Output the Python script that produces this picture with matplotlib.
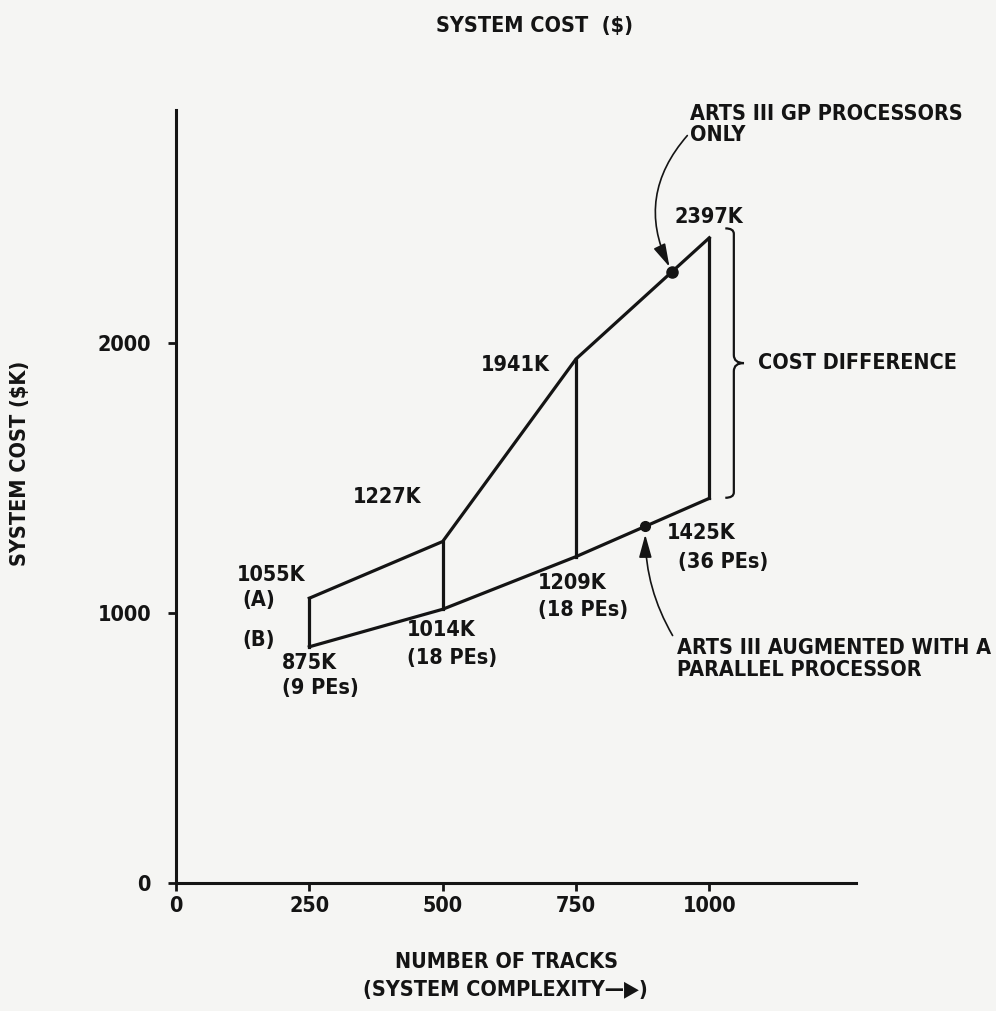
import numpy as np
import matplotlib
matplotlib.use("Agg")
import matplotlib.pyplot as plt
from matplotlib.path import Path
from matplotlib.patches import PathPatch

# tracks vs system cost ($K)
tracks = [250, 500, 750, 1000]
cost_a = [1055, 1265, 1941, 2390]      # ARTS III GP processors only (as drawn)
cost_b = [875, 1014, 1209, 1425]       # ARTS III + parallel processor
labels_a = ["1055K", "1227K", "1941K", "2397K"]
labels_b = ["875K", "1014K", "1209K", "1425K"]
pes_b = ["(9 PEs)", "(18 PEs)", "(18 PEs)", "(36 PEs)"]
x_ticks = [0, 250, 500, 750, 1000]
y_ticks = [0, 1000, 2000]
dot_a_x = 930
dot_b_x = 880

ink = "#141414"
bg = "#f5f5f3"
fs = 15.5
font = dict(family="DejaVu Sans", fontstretch="condensed", fontweight="bold", color=ink)

fig = plt.figure(figsize=(9.96, 10.11), dpi=100, facecolor=bg)
ax = fig.add_axes([0.1767, 0.1266, 0.6827, 0.765])
ax.set_facecolor(bg)
ax.set_xlim(0, 1275)
ax.set_ylim(0, 2865)

for s in ["top", "right"]:
    ax.spines[s].set_visible(False)
for s in ["left", "bottom"]:
    ax.spines[s].set_linewidth(2.2)
    ax.spines[s].set_color(ink)

ax.set_xticks(x_ticks)
ax.set_yticks(y_ticks)
ax.tick_params(axis="x", direction="out", length=6, width=2, pad=3, colors=ink)
ax.tick_params(axis="y", direction="out", length=6, width=2, pad=12, colors=ink)
for t in ax.get_xticklabels() + ax.get_yticklabels():
    t.set_fontsize(fs)
    t.set_fontweight("bold")
    t.set_fontstretch("condensed")

lw = 2.3
# outline of the cost band
ax.plot(tracks, cost_a, color=ink, lw=lw, solid_joinstyle="miter")
ax.plot(tracks, cost_b, color=ink, lw=lw, solid_joinstyle="miter")
for x, a, b in zip(tracks, cost_a, cost_b):
    ax.plot([x, x], [b, a], color=ink, lw=lw)

# dots on each curve
ya = np.interp(dot_a_x, tracks, cost_a)
yb = np.interp(dot_b_x, tracks, cost_b)
ax.plot([dot_a_x], [ya], "o", color=ink, ms=8)
ax.plot([dot_b_x], [yb], "o", color=ink, ms=7)

# value labels
ax.text(114, 1141, labels_a[0], ha="left", va="center", fontsize=fs, **font)
ax.text(124, 1048, "(A)", ha="left", va="center", fontsize=fs, **font)
ax.text(124, 900, "(B)", ha="left", va="center", fontsize=fs, **font)
ax.text(396, 1430, labels_a[1], ha="center", va="center", fontsize=fs, **font)
ax.text(637, 1919, labels_a[2], ha="center", va="center", fontsize=fs, **font)
ax.text(999, 2467, labels_a[3], ha="center", va="center", fontsize=fs, **font)

b_pos = [(199, 815, 722), (433, 937, 833), (679, 1111, 1011), (921, 1296, 1189)]
for (x, y1, y2), lab, pe in zip(b_pos, labels_b, pes_b):
    ax.text(x, y1, lab, ha="left", va="center", fontsize=fs, **font)
    ax.text(x + (20 if pe == "(36 PEs)" else 0), y2, pe, ha="left", va="center", fontsize=fs, **font)

# brace for cost difference
bx, tip = 1046, 1065
top, bot = cost_a[-1] + 35, cost_b[-1] + 2
mid = (top + bot) / 2
verts = [(bx - 16, top), (bx, top), (bx, top - 20),
         (bx, mid + 30),
         (bx, mid), (tip, mid), (tip, mid),
         (bx, mid), (bx, mid - 30), (bx, mid - 30),
         (bx, bot + 20),
         (bx, bot), (bx - 16, bot), (bx - 16, bot)]
codes = [Path.MOVETO, Path.CURVE3, Path.CURVE3,
         Path.LINETO,
         Path.CURVE3, Path.CURVE3, Path.LINETO,
         Path.CURVE3, Path.CURVE3, Path.LINETO,
         Path.LINETO,
         Path.CURVE3, Path.CURVE3, Path.LINETO]
ax.add_patch(PathPatch(Path(verts, codes), fill=False, lw=1.6, edgecolor=ink, clip_on=False))
ax.text(1091, mid, "COST DIFFERENCE", ha="left", va="center", fontsize=fs, **font)

# callouts
ax.annotate("ARTS III GP PROCESSORS\nONLY", xy=(dot_a_x, ya), xytext=(964, 2811),
            ha="left", va="center", fontsize=fs, linespacing=1.08,
            annotation_clip=False, **font,
            arrowprops=dict(arrowstyle="-|>,head_length=0.9,head_width=0.25",
                            color=ink, lw=1.2, shrinkA=0, shrinkB=4,
                            connectionstyle="arc3,rad=0.35", relpos=(0.0, 0.3)))
ax.annotate("ARTS III AUGMENTED WITH A\nPARALLEL PROCESSOR", xy=(dot_b_x, yb - 10), xytext=(939, 830),
            ha="left", va="center", fontsize=fs, linespacing=1.08,
            annotation_clip=False, **font,
            arrowprops=dict(arrowstyle="-|>,head_length=0.9,head_width=0.25",
                            color=ink, lw=1.2, shrinkA=2, shrinkB=4,
                            connectionstyle="arc3,rad=-0.15", relpos=(0.0, 0.9)))

# titles
fig.text(0.537, 0.974, "SYSTEM COST  ($)", ha="center", va="center", fontsize=fs, **font)
fig.text(0.02, 1 - 463 / 1011, "SYSTEM COST ($K)", ha="center", va="center", rotation=90, fontsize=fs, **font)
fig.text(0.509, 1 - 962 / 1011, "NUMBER OF TRACKS", ha="center", va="center", fontsize=fs, **font)
fig.text(0.507, 1 - 990 / 1011, "(SYSTEM COMPLEXITY\u2014\u25B6)", ha="center", va="center", fontsize=fs, **font)

fig.savefig("out.png", dpi=100, facecolor=bg)
